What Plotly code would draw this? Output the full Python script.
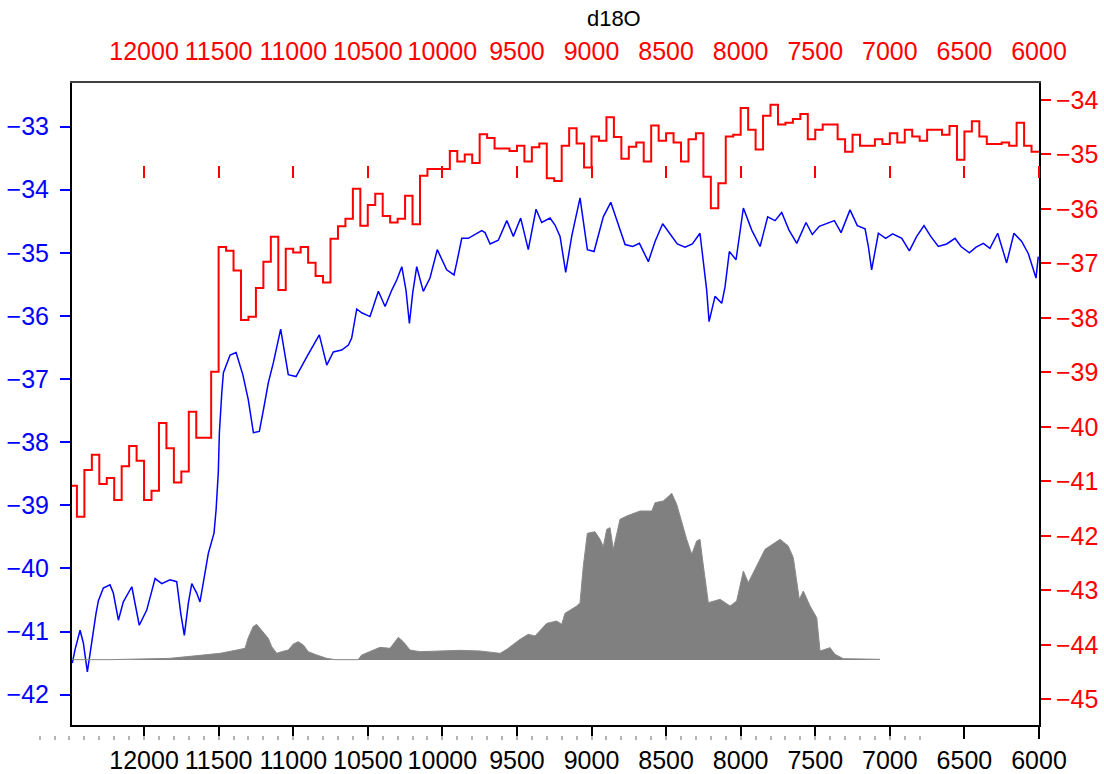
import plotly.graph_objects as go

# ---------------- data ----------------
tick_years = [12000, 11500, 11000, 10500, 10000, 9500, 9000, 8500, 8000, 7500, 7000, 6500, 6000]
left_ticks = [-33, -34, -35, -36, -37, -38, -39, -40, -41, -42]
right_ticks = [-34, -35, -36, -37, -38, -39, -40, -41, -42, -43, -44, -45]

# red step series: 50-year bins (bin start year, older side)
red_years = list(range(12500, 6000, -50))
red_vals = [
    -41.08, -41.65, -40.79, -40.51, -41.05, -40.94, -41.34, -40.72, -40.35, -40.62,
    -41.34, -41.17, -39.93, -40.39, -41.02, -40.82, -39.72, -40.20, -40.20, -38.99,
    -36.70, -36.77, -37.13, -38.04, -37.98, -37.45, -36.97, -36.51, -37.49, -36.73,
    -36.80, -36.70, -36.99, -37.23, -37.35, -36.55, -36.32, -36.18, -35.63, -36.31,
    -35.93, -35.72, -36.13, -36.25, -36.18, -35.76, -36.28, -35.39, -35.27, -35.27,
    -35.27, -34.94, -35.13, -35.00, -35.16, -34.63, -34.70, -34.89, -34.89, -34.94,
    -34.84, -35.13, -34.87, -34.80, -35.44, -35.49, -34.84, -34.52, -34.80, -35.24,
    -34.67, -34.75, -34.32, -34.68, -35.08, -34.86, -34.78, -35.13, -34.47, -34.75,
    -34.61, -34.78, -35.13, -34.72, -34.61, -35.41, -35.99, -35.53, -34.67, -34.64,
    -34.15, -34.55, -34.91, -34.29, -34.09, -34.45, -34.42, -34.35, -34.26, -34.72,
    -34.55, -34.45, -34.45, -34.72, -34.95, -34.64, -34.84, -34.84, -34.72, -34.81,
    -34.61, -34.78, -34.55, -34.67, -34.75, -34.55, -34.55, -34.64, -34.48, -35.10,
    -34.58, -34.39, -34.67, -34.81, -34.81, -34.78, -34.84, -34.42, -34.84, -34.95,
]
red_end_year = 6000

# blue line series
blue_years = [
    12481, 12463, 12429, 12407, 12380, 12351, 12322, 12306, 12273, 12228,
    12206, 12172, 12139, 12082, 12032, 11982, 11926, 11881, 11826, 11781,
    11754, 11730, 11703, 11680, 11647, 11625, 11602, 11569, 11531, 11517,
    11502, 11495, 11479, 11468, 11423, 11383, 11338, 11301, 11267, 11227,
    11196, 11167, 11133, 11084, 11033, 10981, 10909, 10865, 10825, 10775,
    10731, 10675, 10630, 10608, 10574, 10541, 10485, 10429, 10384, 10339,
    10306, 10272, 10244, 10221, 10199, 10172, 10128, 10083, 10034, 9971,
    9922, 9904, 9870, 9826, 9792, 9736, 9714, 9680, 9625, 9568,
    9524, 9475, 9424, 9372, 9334, 9278, 9245, 9211, 9173, 9133,
    9077, 9028, 8983, 8921, 8871, 8831, 8775, 8724, 8679, 8619,
    8574, 8523, 8474, 8425, 8373, 8324, 8273, 8250, 8228, 8212,
    8172, 8127, 8105, 8076, 8031, 7982, 7926, 7870, 7819, 7770,
    7725, 7676, 7624, 7562, 7520, 7473, 7423, 7372, 7327, 7267,
    7218, 7166, 7144, 7122, 7077, 7028, 6981, 6920, 6869, 6820,
    6771, 6726, 6675, 6619, 6563, 6523, 6467, 6422, 6373, 6329,
    6277, 6217, 6168, 6116, 6072, 6020, 6005,
]
blue_vals = [
    -41.50, -41.29, -40.98, -41.18, -41.64, -41.13, -40.71, -40.51, -40.31, -40.26,
    -40.39, -40.82, -40.53, -40.29, -40.90, -40.66, -40.16, -40.24, -40.18, -40.21,
    -40.71, -41.06, -40.55, -40.24, -40.39, -40.53, -40.24, -39.76, -39.44, -39.07,
    -38.47, -37.85, -37.22, -36.90, -36.62, -36.58, -36.93, -37.33, -37.85, -37.83,
    -37.44, -37.06, -36.74, -36.21, -36.93, -36.96, -36.65, -36.46, -36.30, -36.78,
    -36.57, -36.54, -36.46, -36.35, -35.89, -35.95, -36.01, -35.61, -35.85, -35.59,
    -35.43, -35.22, -35.59, -36.12, -35.64, -35.22, -35.61, -35.40, -34.95, -35.27,
    -35.35, -35.16, -34.77, -34.77, -34.72, -34.65, -34.68, -34.86, -34.80, -34.49,
    -34.74, -34.45, -34.95, -34.31, -34.52, -34.45, -34.56, -34.74, -35.31, -34.74,
    -34.13, -34.95, -34.98, -34.43, -34.20, -34.48, -34.87, -34.90, -34.85, -35.14,
    -34.82, -34.54, -34.70, -34.86, -34.91, -34.86, -34.69, -35.16, -35.59, -36.09,
    -35.69, -35.80, -35.54, -34.98, -35.11, -34.29, -34.64, -34.90, -34.43, -34.49,
    -34.36, -34.64, -34.85, -34.52, -34.71, -34.58, -34.53, -34.49, -34.68, -34.32,
    -34.57, -34.62, -34.90, -35.27, -34.69, -34.77, -34.70, -34.77, -34.97, -34.74,
    -34.57, -34.74, -34.90, -34.86, -34.77, -34.90, -35.00, -34.91, -34.85, -34.93,
    -34.69, -35.16, -34.69, -34.82, -35.01, -35.40, -35.06,
]

# grey density-like series (arbitrary units, peak = 100)
grey_years = [
    12483, 12228, 11826, 11672, 11490, 11377, 11323, 11303, 11269, 11245,
    11211, 11167, 11144, 11110, 11077, 11033, 10999, 10966, 10932, 10899,
    10842, 10775, 10720, 10565, 10541, 10485, 10418, 10351, 10295, 10262,
    10217, 10150, 10016, 9882, 9747, 9613, 9568, 9479, 9424, 9379,
    9300, 9233, 9200, 9178, 9099, 9077, 9055, 9028, 8977, 8943,
    8921, 8898, 8876, 8854, 8809, 8764, 8675, 8596, 8574, 8519,
    8462, 8429, 8362, 8328, 8295, 8273, 8250, 8217, 8138, 8071,
    8027, 7982, 7949, 7870, 7837, 7736, 7681, 7647, 7607, 7580,
    7535, 7490, 7468, 7401, 7368, 7312, 7066,
]
grey_vals = [
    0.2, 0.2, 1.0, 2.4, 4.0, 6.0, 7.0, 13.0, 20.0, 21.4,
    18.0, 13.0, 8.0, 4.0, 5.0, 6.0, 9.6, 11.0, 9.0, 5.0,
    3.0, 1.0, 0.2, 0.2, 3.0, 5.0, 7.6, 7.0, 13.6, 11.0,
    6.0, 5.0, 5.4, 5.8, 5.4, 4.0, 6.4, 12.4, 15.4, 14.4,
    22.0, 23.4, 21.4, 28.0, 32.4, 34.4, 56.4, 76.0, 77.0, 72.4,
    68.0, 78.4, 79.4, 66.4, 84.4, 86.4, 89.4, 89.4, 94.4, 95.4,
    100.0, 93.4, 72.4, 63.4, 71.4, 72.4, 56.4, 34.4, 36.4, 32.4,
    35.4, 53.4, 46.4, 60.4, 66.4, 72.4, 68.4, 61.4, 36.4, 41.4,
    32.4, 25.4, 5.4, 7.4, 3.4, 0.8, 0.4,
]

# minor (100-year) tick row under the bottom axis
minor_years = list(range(12700, 6700, -100))

# ---------------- figure ----------------
FONT = "Liberation Sans, Arial, sans-serif"
X_RANGE = [12483, 6000]
MINOR_RANGE = [12711, 6000]
TICK_SIZE = 25

fig = go.Figure()

fig.add_trace(go.Scatter(
    x=grey_years, y=grey_vals, xaxis="x3", yaxis="y3",
    mode="lines", fill="tozeroy", fillcolor="#808080",
    line=dict(color="#8a8a8a", width=1), hoverinfo="skip", showlegend=False,
))

fig.add_trace(go.Scatter(
    x=blue_years, y=blue_vals, xaxis="x", yaxis="y",
    mode="lines", line=dict(color="#0000FF", width=1.5), showlegend=False,
))

fig.add_trace(go.Scatter(
    x=red_years + [red_end_year], y=red_vals + [red_vals[-1]], xaxis="x2", yaxis="y2",
    mode="lines", line=dict(color="#FF0000", width=2, shape="hv"), showlegend=False,
))

# invisible carrier so the minor-tick axis gets drawn
fig.add_trace(go.Scatter(
    x=minor_years, y=[0] * len(minor_years), xaxis="x4", yaxis="y4",
    mode="markers", marker=dict(opacity=0), hoverinfo="skip", showlegend=False,
))

fig.update_layout(
    width=1104, height=774,
    margin=dict(l=30, r=65, t=83, b=29, autoexpand=False),
    paper_bgcolor="white", plot_bgcolor="rgba(0,0,0,0)",
    font=dict(family=FONT, size=TICK_SIZE, color="black"),
    title=dict(text="d18O", xref="container", yref="container", x=0.556, y=0.977,
               xanchor="center", yanchor="middle", automargin=False,
               font=dict(family=FONT, size=22, color="black")),
    xaxis=dict(
        domain=[0.04163, 1],
        range=X_RANGE, tickvals=tick_years, ticktext=[str(v) for v in tick_years],
        side="bottom", anchor="y", tickangle=0, automargin=False,
        ticks="outside", ticklen=12, tickwidth=1.5, tickcolor="black",
        tickfont=dict(color="black", size=TICK_SIZE),
        showline=True, linecolor="black", linewidth=2,
        showgrid=False, zeroline=False,
    ),
    xaxis2=dict(
        range=X_RANGE, tickvals=tick_years, ticktext=[str(v) for v in tick_years],
        overlaying="x", side="top", anchor="y", tickangle=0, automargin=False,
        ticks="outside", ticklen=11, tickcolor="rgba(0,0,0,0)",
        tickfont=dict(color="#FF0000", size=TICK_SIZE),
        showline=True, linecolor="#404040", linewidth=2,
        showgrid=False, zeroline=False,
    ),
    xaxis3=dict(
        range=X_RANGE, tickvals=tick_years, automargin=False,
        overlaying="x", side="top", anchor="free", position=0.8565,
        ticks="outside", ticklen=12, tickwidth=1.5, tickcolor="#FF0000",
        showticklabels=False, showline=False, showgrid=False, zeroline=False,
    ),
    xaxis4=dict(
        domain=[0.00793, 1],
        range=MINOR_RANGE, tickvals=minor_years, automargin=False,
        side="bottom", anchor="free", position=0.0151,
        ticks="outside", ticklen=4, tickwidth=1.5, tickcolor="#b4b4b4",
        showticklabels=False, showline=False, showgrid=False, zeroline=False,
    ),
    yaxis=dict(
        domain=[0.03021, 1],
        range=[-42.48, -32.31], tickvals=left_ticks,
        side="left", anchor="x", automargin=False,
        ticks="outside", ticklen=10, tickwidth=2, tickcolor="#0000FF",
        ticklabelstandoff=6,
        tickfont=dict(color="#0000FF", size=TICK_SIZE),
        showline=True, linecolor="black", linewidth=2,
        showgrid=False, zeroline=False,
    ),
    yaxis2=dict(
        range=[-45.47, -33.69], tickvals=right_ticks,
        overlaying="y", side="right", anchor="x", automargin=False,
        ticks="outside", ticklen=10, tickwidth=2, tickcolor="#FF0000",
        tickfont=dict(color="#FF0000", size=TICK_SIZE),
        showline=True, linecolor="black", linewidth=2,
        showgrid=False, zeroline=False,
    ),
    yaxis3=dict(
        range=[-39, 346.2], overlaying="y", anchor="x", automargin=False,
        showticklabels=False, ticks="", showline=False,
        showgrid=False, zeroline=False,
    ),
    yaxis4=dict(
        domain=[0, 0.01], range=[0, 1], anchor="x4", automargin=False,
        visible=False, showgrid=False, zeroline=False,
    ),
)

fig.write_html(
    "out.html",
    config={"displayModeBar": False},
    post_script="document.body.style.margin='0';document.body.style.padding='0';"
                "document.documentElement.style.overflow='hidden';",
)
